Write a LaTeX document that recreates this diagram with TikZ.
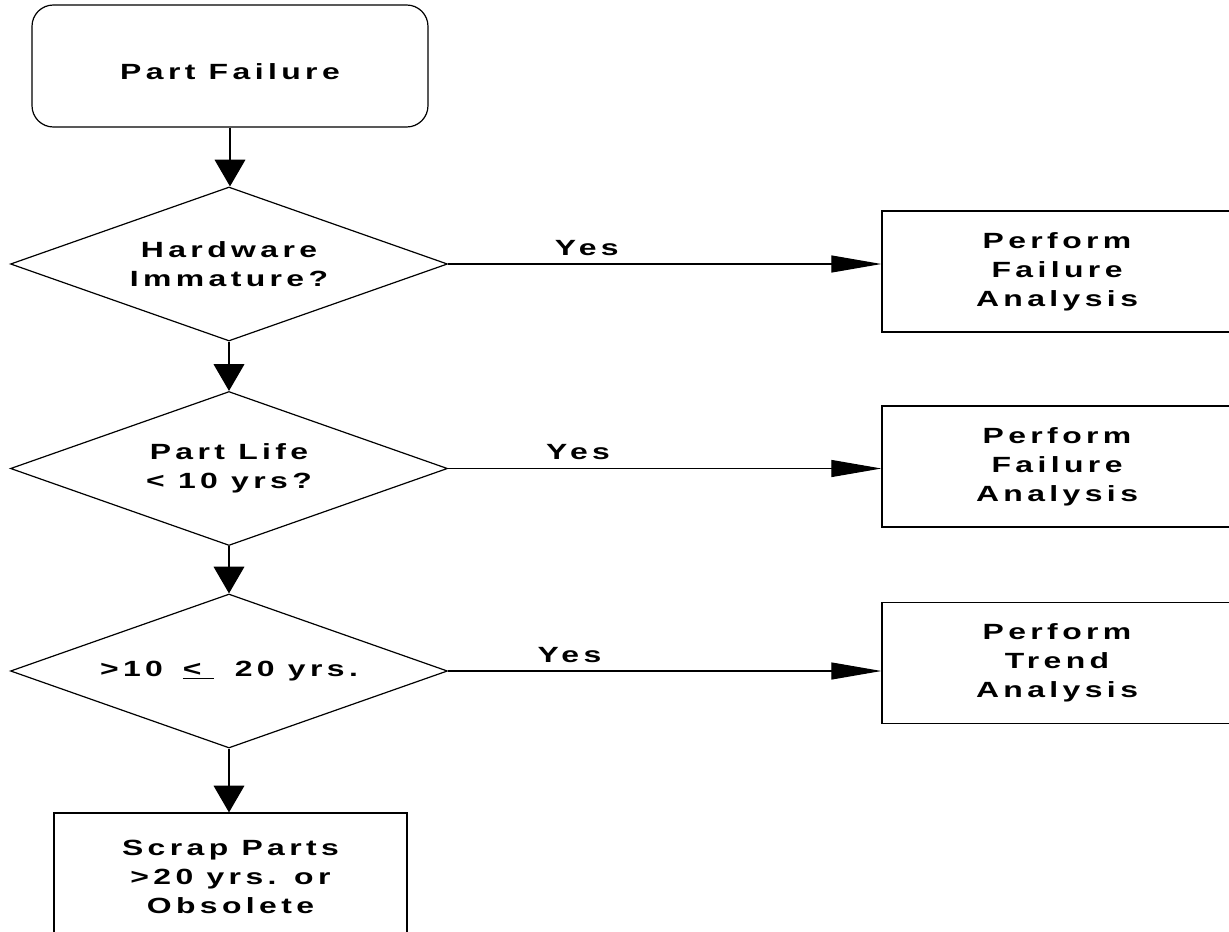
\documentclass[tikz,border=0pt]{standalone}
\usepackage{fontspec}
\setmainfont{Liberation Sans}[LetterSpace=20,FakeStretch=1.45]
\usetikzlibrary{arrows.meta,shapes.geometric}
\newcommand{\chartfont}{\fontsize{16.5}{21.75}\selectfont\bfseries}
\tikzset{
  startbox/.style={draw,line width=0.9pt,rounded corners=16pt,
    minimum width=297pt,minimum height=91.5pt,inner sep=0pt,
    text height=20pt,text depth=0pt,align=center,font=\chartfont},
  query/.style={draw,diamond,aspect=2.84,line width=0.9pt,
    minimum width=327.75pt,minimum height=115.5pt,inner sep=0pt,
    align=center,font=\chartfont},
  actionbox/.style={draw,line width=0.9pt,minimum width=262.5pt,
    minimum height=90.75pt,inner sep=0pt,align=center,font=\chartfont},
  downflow/.style={line width=0.9pt,-{Triangle[length=20pt,width=23pt]}},
  sideflow/.style={line width=0.8pt,-{Triangle[length=37.5pt,width=12.75pt]}},
  yeslabel/.style={above=6pt,inner sep=0pt,font=\chartfont}
}
\begin{document}
\begin{tikzpicture}[x=0.75pt,y=-0.75pt]
  \useasboundingbox (0,0) rectangle (1229,932);
  % main column
  \node[startbox] (start) at (230,66) {Part Failure};
  \node[query] (immature) at (229,264) {Hardware\\Immature?};
  \node[query] (young) at (229,468.5) {Part Life\\< 10 yrs?};
  \node[query] (middle) at (229,671)
    {>10\hspace{5pt} \underline{<\hspace{9pt}}\hspace{6pt} 20 yrs.};
  \node[actionbox,minimum width=264.75pt,minimum height=96pt]
    (scrap) at (230.5,877) {Scrap Parts\\>20 yrs. or\\Obsolete};
  % right column
  \node[actionbox] (failA) at (1057,271.5) {Perform\\Failure\\Analysis};
  \node[actionbox] (failB) at (1057,466.5) {Perform\\Failure\\Analysis};
  \node[actionbox] (trend) at (1057,663) {Perform\\Trend\\Analysis};
  % connectors
  \draw[downflow] (start.south) -- (start.south |- immature.north);
  \draw[downflow] (immature.south) -- (young.north);
  \draw[downflow] (young.south) -- (middle.north);
  \draw[downflow] (middle.south) -- (middle.south |- scrap.north);
  \draw[sideflow] (immature.east) -- (immature.east -| failA.west)
    node[yeslabel,pos=0.32] {Yes};
  \draw[sideflow] (young.east) -- (young.east -| failB.west)
    node[yeslabel,pos=0.30] {Yes};
  \draw[sideflow] (middle.east) -- (middle.east -| trend.west)
    node[yeslabel,pos=0.28] {Yes};
\end{tikzpicture}
\end{document}
